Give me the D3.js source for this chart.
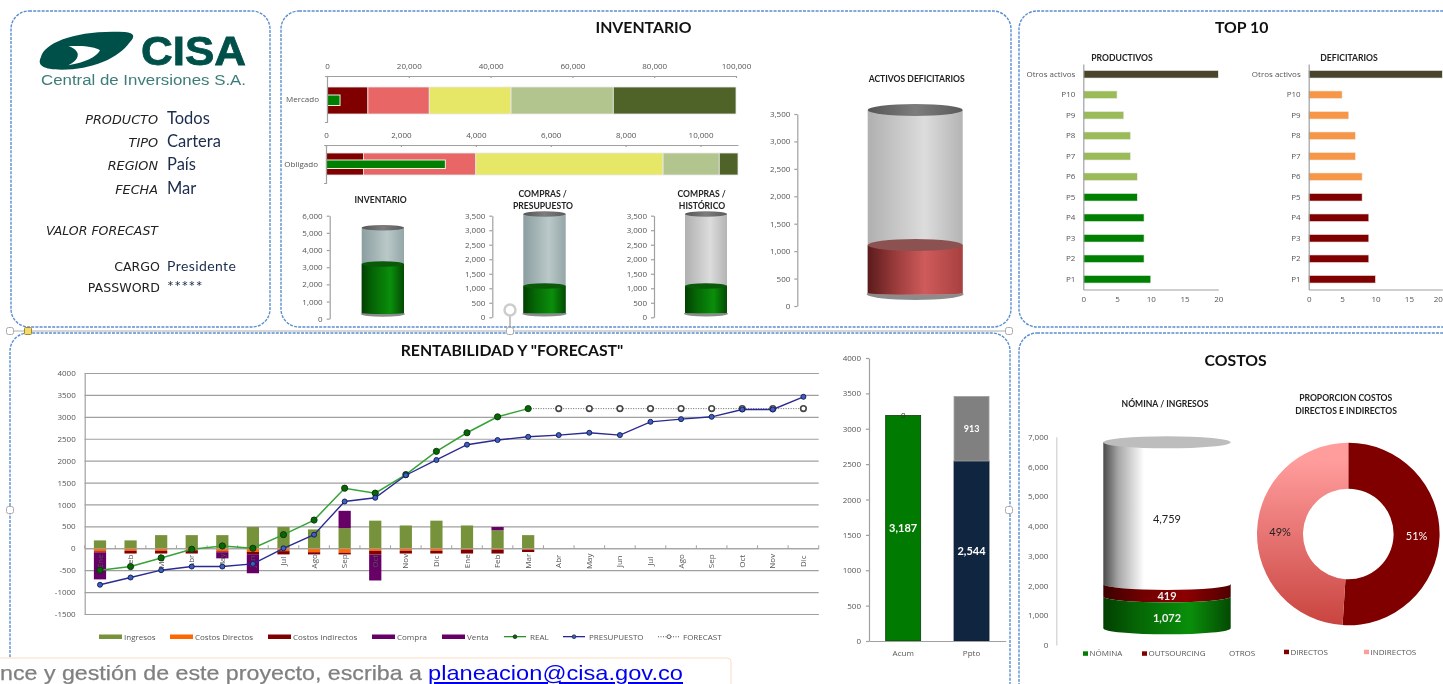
<!DOCTYPE html>
<html lang="es">
  <head>
    <meta charset="UTF-8" />
    <title>Tablero CISA</title>
    <script src="https://d3js.org/d3.v7.min.js"></script>
    <style>
      html, body { margin: 0; padding: 0; background: #fff; overflow: hidden; }
      svg { display: block; filter: blur(0.45px); }
      text { font-family: "Open Sans", sans-serif; }
      .tick text, .lab { font-size: 8px; fill: #555; }
      .axis path, .axis line { stroke: #a0a0a0; stroke-width: 1.2; fill: none; }
      .title { font-family: Lato, sans-serif; font-weight: 700; fill: #111; text-anchor: middle; }
      .sub { font-family: Lato, sans-serif; font-weight: 700; font-size: 8.6px; fill: #222; text-anchor: middle; }
    </style>
  </head>
  <body>
    <svg width="1443" height="684"></svg>
    <script>
      // Data
      const filterLabels = ["PRODUCTO", "TIPO", "REGION", "FECHA"];
      const filterValues = ["Todos", "Cartera", "País", "Mar"];

      // Inventario bullets
      const mercadoRanges = [10000, 15000, 20000, 25000, 30000];
      const obligadoRanges = [1000, 3000, 5000, 1500, 500];
      const inventarioActual = 3187;
      const mercadoTicks = [0, 20000, 40000, 60000, 80000, 100000];
      const obligadoTicks = [0, 2000, 4000, 6000, 8000, 10000];

      // Tanks: base of the cylinder, top of the cylinder, level reached
      const tankInventario = [330, 5300, 3187];
      const tankPresupuesto = [160, 3560, 1078];
      const tankHistorico = [160, 3560, 1078];
      const tankDeficitarios = [237, 3573, 1112];

      // Top 10
      const topNames = ["Otros activos", "P10", "P9", "P8", "P7", "P6", "P5", "P4", "P3", "P2", "P1"];
      const productivos = [20, 5, 6, 7, 7, 8, 8, 9, 9, 9, 10];
      const deficitarios = [20, 5, 6, 7, 7, 8, 8, 9, 9, 9, 10];

      // Rentabilidad
      const months = ["Ene", "Feb", "Mar", "Abr", "May", "Jun", "Jul", "Ago", "Sep", "Oct", "Nov", "Dic",
                      "Ene", "Feb", "Mar", "Abr", "May", "Jun", "Jul", "Ago", "Sep", "Oct", "Nov", "Dic"];
      const ingresos = [180, 180, 300, 300, 300, 485, 485, 430, 460, 630, 520, 630, 520, 410, 300];
      const costosDirectos = [-70, -60, -60, -45, -70, -85, -65, -90, -100, -60, -60, -60, -30, -30, -30];
      const costosIndirectos = [-30, -60, -60, -75, -20, -50, -75, -50, -40, -85, -60, -60, -90, -90, -55];
      const compra = [-610, 0, 0, 0, -140, -435, 0, 0, 0, -590, 0, 0, 0, 0, 0];
      const venta = [0, 0, 0, 0, 0, 0, 0, 0, 395, 0, 0, 0, 0, 75, 0];
      const real = [-500, -417, -220, -23, 53, 0, 310, 644, 1371, 1258, 1682, 2212, 2636, 3000, 3187];
      const presupuesto = [-833, -667, -500, -417, -417, -356, 0, 310, 1068, 1152, 1667, 2015, 2364, 2470, 2544,
                           2583, 2636, 2583, 2886, 2947, 3000, 3167, 3167, 3457];
      const forecast = [3187, 3187, 3187, 3187, 3187, 3187, 3187, 3187, 3187, 3187];

      // Acumulado
      const acumNames = ["Acum", "Ppto"];
      const acumReal = [3187, 0];
      const acumPpto = [0, 2544];
      const acumFalta = [0, 913];

      // Costos
      const nominaNames = ["NÓMINA", "OUTSOURCING", "OTROS"];
      const nominaValues = [1072, 419, 4759];
      const nominaBase = 560;
      const donutNames = ["DIRECTOS", "INDIRECTOS"];
      const donutValues = [51, 49];

      const fmt = d3.format(",");
      const svg = d3.select("svg");
      const defs = svg.append("defs");

      // horizontal shading used by every cylinder
      function shade(id, stops) {
        const g = defs.append("linearGradient").attr("id", id);
        stops.forEach((s) => g.append("stop").attr("offset", s[0]).attr("stop-color", s[1]));
      }
      shade("green", [[0, "#023f02"], [0.25, "#056405"], [0.68, "#0a8f0a"], [1, "#034a03"]]);
      shade("red", [[0, "#5b1b1b"], [0.3, "#9c3c3c"], [0.6, "#cf5b5b"], [1, "#a84040"]]);
      shade("glassBlue", [[0, "#8b9ea0"], [0.6, "#bac8c8"], [1, "#95a6a8"]]);
      shade("glassGrey", [[0, "#b0b0b0"], [0.6, "#dcdcdc"], [1, "#b4b4b4"]]);
      shade("white", [[0, "#4a4a4a"], [0.12, "#a8a8a8"], [0.32, "#fff"], [1, "#fff"]]);
      shade("darkRed", [[0, "#3c0000"], [0.3, "#700000"], [0.65, "#8c0000"], [1, "#500000"]]);
      shade("cap", [[0, "#555"], [0.5, "#7d7d7d"], [1, "#5a5a5a"]]);
      const pink = defs.append("linearGradient").attr("id", "pink").attr("gradientUnits", "userSpaceOnUse")
        .attr("x1", 0).attr("y1", -91).attr("x2", 0).attr("y2", 91);
      pink.append("stop").attr("offset", 0.1).attr("stop-color", "#ff9c9c");
      pink.append("stop").attr("offset", 1).attr("stop-color", "#c94440");

      // Panels
      const panels = [
        [11, 11, 259, 316],
        [281, 11, 730, 316],
        [1019, 11, 460, 316],
        [1019, 333, 460, 380],
        [10, 333, 1000, 380],
      ];
      svg.append("g").selectAll("rect").data(panels).join("rect")
        .attr("x", (d) => d[0]).attr("y", (d) => d[1])
        .attr("width", (d) => d[2]).attr("height", (d) => d[3])
        .attr("rx", 18).attr("fill", "#fff")
        .attr("stroke", "#5b8fcf").attr("stroke-width", 1.4).attr("stroke-dasharray", "3 1.2");

      function title(txt, x, y, size) {
        svg.append("text").attr("class", "title").attr("x", x).attr("y", y).attr("font-size", size).text(txt);
      }
      function sub(txt, x, y) {
        svg.append("text").attr("class", "sub").attr("x", x).attr("y", y).text(txt);
      }

      /* Logo and filters */
      const logo = svg.append("g").attr("transform", "translate(35,22) scale(0.3333)");
      logo.append("path").attr("fill", "#00504a")
        .attr("d", "M18 105C28 60 130 22 270 30C300 32 300 45 285 60C250 110 170 143 80 143C25 143 5 130 18 105Z");
      logo.append("path").attr("fill", "#fff")
        .attr("d", "M100 73C150 70 180 75 195 85C185 105 150 122 100 130C128 116 132 100 126 90C120 80 110 76 100 73Z");
      svg.append("text").attr("x", 141).attr("y", 65)
        .style("font-family", "Liberation Sans").style("font-weight", 700).attr("font-size", 41)
        .attr("fill", "#00504a").attr("stroke", "#00504a").attr("stroke-width", 0.8)
        .attr("textLength", 105).attr("lengthAdjust", "spacingAndGlyphs").text("CISA");
      svg.append("text").attr("x", 41).attr("y", 85)
        .style("font-family", "Liberation Sans").attr("font-size", 15.5)
        .attr("fill", "#3c7d77").attr("textLength", 205).attr("lengthAdjust", "spacingAndGlyphs").text("Central de Inversiones S.A.");

      const rowY = d3.scalePoint().domain(filterLabels).range([124, 193.5]);
      filterLabels.forEach((name, i) => {
        svg.append("text").attr("x", 158).attr("y", rowY(name)).attr("text-anchor", "end")
          .style("font-family", "DejaVu Sans").style("font-style", "italic").attr("font-size", 12.8).attr("fill", "#222").text(name);
        svg.append("text").attr("x", 167).attr("y", rowY(name)).style("font-family", "Lato")
          .attr("font-size", 16.5).attr("fill", "#1b2c4c").text(filterValues[i]);
      });
      svg.append("text").attr("x", 158).attr("y", 234.5).attr("text-anchor", "end")
        .style("font-family", "DejaVu Sans").style("font-style", "italic").attr("font-size", 12).attr("fill", "#222")
        .attr("textLength", 112).attr("lengthAdjust", "spacingAndGlyphs").text("VALOR FORECAST");
      [["CARGO", "Presidente", 271], ["PASSWORD", "*****", 291.5]].forEach((r, i) => {
        svg.append("text").attr("x", 160).attr("y", r[2]).attr("text-anchor", "end")
          .style("font-family", "DejaVu Sans").attr("font-size", 12.6).attr("fill", "#222").text(r[0]);
        svg.append("text").attr("x", 167).attr("y", r[2]).style("font-family", "Lato").style("letter-spacing", "0.4px")
          .attr("font-size", i ? 16 : 14).attr("fill", "#1b2c4c").text(r[1]);
      });

      /* Inventario */
      title("INVENTARIO", 643.5, 33, 15.8);
      const rangeColors = ["#800000", "#e86666", "#e6e667", "#b3c58f", "#4f6228"];

      function bullet(name, ranges, ticks, domainMax, left, right, axisY, bottom, barTop, barBottom, inTop, inBottom) {
        const x = d3.scaleLinear().domain([0, domainMax]).range([left, right]);
        const y = d3.scaleBand().domain([name]).range([axisY, bottom]);
        const g = svg.append("g");
        const starts = d3.cumsum([0].concat(ranges));
        g.selectAll("rect.r").data(ranges).join("rect").attr("class", "r")
          .attr("x", (d, i) => x(starts[i])).attr("width", (d) => x(d) - x(0))
          .attr("y", barTop).attr("height", barBottom - barTop)
          .attr("fill", (d, i) => rangeColors[i]).attr("stroke", "#e8e8e8").attr("stroke-width", 0.8);
        g.append("rect").attr("x", x(0)).attr("width", x(inventarioActual) - x(0))
          .attr("y", inTop).attr("height", inBottom - inTop)
          .attr("fill", "#008000").attr("stroke", "#e8f0e0").attr("stroke-width", 1);
        g.append("g").attr("class", "axis").attr("transform", `translate(0,${axisY})`)
          .call(d3.axisTop(x).tickValues(ticks).tickFormat(fmt).tickSizeInner(-2).tickSizeOuter(0).tickPadding(7));
        g.append("g").attr("class", "axis").attr("transform", `translate(${left},0)`)
          .call(d3.axisLeft(y).tickSizeInner(0).tickSizeOuter(2).tickPadding(8));
      }
      bullet("Mercado", mercadoRanges, mercadoTicks, 100000, 327, 736, 76, 122, 87, 114, 95, 105.5);
      bullet("Obligado", obligadoRanges, obligadoTicks, 11000, 326, 738, 145, 183, 153, 175, 160, 168.5);

      // cylinder wall; topBulge curves the upper edge like the lower one
      function cylBody(x0, x1, top, bottom, ry, topBulge, lowRy) {
        const rx = (x1 - x0) / 2;
        const upper = topBulge ? `A${rx},${ry} 0 0 0 ${x1},${top}` : `L${x1},${top}`;
        return `M${x0},${top}${upper}L${x1},${bottom}A${rx},${lowRy === undefined ? ry : lowRy} 0 0 1 ${x0},${bottom}Z`;
      }
      function ell(g, x0, x1, cy, ry, fill) {
        g.append("ellipse").attr("cx", (x0 + x1) / 2).attr("cy", cy).attr("rx", (x1 - x0) / 2).attr("ry", ry).attr("fill", fill);
      }
      function tank(name, vals, yMax, yStep, yRange, axisX, cx0, cx1, glass, liquid, levelCol, ry) {
        const g = svg.append("g");
        const y = d3.scaleLinear().domain([0, yMax]).range(yRange);
        const x = d3.scaleBand().domain([name]).range([cx0, cx1]);
        const x0 = x(name), x1 = x0 + x.bandwidth();
        ell(g, x0 - 1, x1 + 1, y(vals[0]) + 1, ry, "#8c8c8c");
        g.append("path").attr("d", cylBody(x0, x1, y(vals[1]), y(vals[0]), ry, false, ry * 0.3)).attr("fill", `url(#${glass})`);
        g.append("path").attr("d", cylBody(x0, x1, y(vals[2]), y(vals[0]), ry, false, ry * 0.3)).attr("fill", `url(#${liquid})`);
        ell(g, x0, x1, y(vals[2]), ry, levelCol);
        ell(g, x0, x1, y(vals[1]), ry, "url(#cap)");
        g.append("g").attr("class", "axis").attr("transform", `translate(${axisX},0)`)
          .call(d3.axisLeft(y).tickValues(d3.range(0, yMax + 1, yStep)).tickFormat(fmt).tickSize(3).tickSizeOuter(0).tickPadding(4));
      }
      sub("INVENTARIO", 380.7, 202.5);
      tank("Inventario", tankInventario, 6000, 1000, [318.7, 215.7], 329.7, 361.7, 404, "glassBlue", "green", "#0a5a0a", 2.8);
      sub("COMPRAS /", 542.7, 196.5);
      sub("PRESUPUESTO", 543, 208.5);
      tank("Presupuesto", tankPresupuesto, 3500, 500, [317.3, 215.7], 492.3, 523.3, 565.7, "glassBlue", "green", "#0a5a0a", 2.8);
      sub("COMPRAS /", 701.7, 196.5);
      sub("HISTÓRICO", 702, 208.5);
      tank("Historico", tankHistorico, 3500, 500, [317.3, 215.7], 654, 685, 727, "glassGrey", "green", "#0a5a0a", 2.8);
      sub("ACTIVOS DEFICITARIOS", 916.7, 81.5);
      tank("Deficitarios", tankDeficitarios, 3500, 500, [306, 114], 797.3, 867.7, 962.7, "glassGrey", "red", "#8c5252", 6);

      /* Top 10 */
      title("TOP 10", 1241.7, 33, 15.8);
      function topChart(values, left, right, colorA, colorB) {
        const g = svg.append("g");
        const x = d3.scaleLinear().domain([0, 20]).range([left, right]);
        const y = d3.scaleBand().domain(topNames).range([64, 289.5]).paddingInner(0.63).paddingOuter(0.315);
        g.selectAll("rect").data(values).join("rect")
          .attr("x", x(0)).attr("y", (d, i) => y(topNames[i]))
          .attr("width", (d) => x(d) - x(0)).attr("height", y.bandwidth())
          .attr("fill", (d, i) => (i === 0 ? "#4a452a" : i < 6 ? colorA : colorB))
          .attr("stroke", "#f0f0f0").attr("stroke-width", 0.6);
        const ax = g.append("g").attr("class", "axis").attr("transform", "translate(0,289.5)")
          .call(d3.axisBottom(x).tickValues(d3.range(0, 21, 5)).tickSize(0).tickPadding(7));
        // the last label of the right chart would run off the window, pull it inside
        if (right > 1430) ax.selectAll(".tick:last-of-type text").attr("text-anchor", "end");
        g.append("g").attr("class", "axis").attr("transform", `translate(${left},0)`)
          .call(d3.axisLeft(y).tickSize(0).tickPadding(8));
      }
      sub("PRODUCTIVOS", 1122, 60.5);
      topChart(productivos, 1083.3, 1218.3, "#9bbb59", "#008000");
      sub("DEFICITARIOS", 1349, 60.5);
      topChart(deficitarios, 1308.7, 1442.3, "#f79646", "#800000");

      /* Rentabilidad y forecast */
      title('RENTABILIDAD Y "FORECAST"', 512, 356, 15.8);
      const xM = d3.scaleBand().domain(d3.range(24)).range([84.7, 818.7]).paddingInner(0.6).paddingOuter(0.3);
      const yM = d3.scaleLinear().domain([-1500, 4000]).range([614, 373]);
      const cx = (i) => xM(i) + xM.bandwidth() / 2;

      const rent = svg.append("g");
      rent.append("g").attr("class", "axis grid").attr("transform", "translate(84.7,0)")
        .call(d3.axisLeft(yM).tickValues(d3.range(-1500, 4001, 500)).tickFormat((d) => String(d)).tickSize(-734).tickPadding(9));
      rent.select(".grid").selectAll(".tick line").attr("x2", 734);

      const monthRows = ingresos.map((d, i) => ({
        i, Ingresos: d, Directos: costosDirectos[i], Indirectos: costosIndirectos[i], Compra: compra[i], Venta: venta[i],
      }));
      const stackKeys = ["Ingresos", "Directos", "Indirectos", "Compra", "Venta"];
      const stackColors = ["#76933c", "#ff6600", "#800000", "#660066", "#660066"];
      const layers = d3.stack().keys(stackKeys).offset(d3.stackOffsetDiverging)(monthRows);
      rent.selectAll("g.layer").data(layers).join("g").attr("class", "layer")
        .attr("fill", (d, i) => stackColors[i])
        .selectAll("rect").data((d) => d).join("rect")
        .attr("x", (d) => xM(d.data.i)).attr("width", xM.bandwidth())
        .attr("y", (d) => yM(d[1])).attr("height", (d) => yM(d[0]) - yM(d[1]));

      // month axis crosses at zero, labels hang below it rotated
      const monthAxis = rent.append("g").attr("class", "axis").attr("transform", `translate(0,${yM(0)})`)
        .call(d3.axisBottom(xM).tickFormat((i) => months[i]).tickSize(0).tickPadding(0));
      monthAxis.selectAll("text").attr("transform", "translate(0,13) rotate(-90)")
        .attr("dy", "0.32em").attr("y", 0).attr("text-anchor", "middle");
      rent.append("g").selectAll("line").data(d3.range(25)).join("line")
        .attr("x1", (i) => 84.7 + (i * 734) / 24).attr("x2", (i) => 84.7 + (i * 734) / 24)
        .attr("y1", yM(0) - 3).attr("y2", yM(0)).attr("stroke", "#a0a0a0");

      const line = d3.line().x((d) => cx(d.i)).y((d) => yM(d.v));
      const realPts = real.map((v, i) => ({ i, v }));
      const budgetPts = presupuesto.map((v, i) => ({ i, v }));
      const forePts = forecast.map((v, i) => ({ i: i + 14, v }));

      rent.append("path").attr("d", line(forePts)).attr("fill", "none").attr("stroke", "#555").attr("stroke-width", 0.9).attr("stroke-dasharray", "1 1.5");
      rent.append("g").selectAll("circle").data(forePts.slice(1)).join("circle")
        .attr("cx", (d) => cx(d.i)).attr("cy", (d) => yM(d.v)).attr("r", 2.8)
        .attr("fill", "#fff").attr("stroke", "#444").attr("stroke-width", 1.6);
      rent.append("path").attr("d", line(realPts)).attr("fill", "none").attr("stroke", "#36a336").attr("stroke-width", 1.5);
      rent.append("g").selectAll("circle").data(realPts).join("circle")
        .attr("cx", (d) => cx(d.i)).attr("cy", (d) => yM(d.v)).attr("r", 3.1)
        .attr("fill", "#046904").attr("stroke", "#0c300c").attr("stroke-width", 0.9);
      rent.append("path").attr("d", line(budgetPts)).attr("fill", "none").attr("stroke", "#2a2a92").attr("stroke-width", 1.4);
      rent.append("g").selectAll("circle").data(budgetPts).join("circle")
        .attr("cx", (d) => cx(d.i)).attr("cy", (d) => yM(d.v)).attr("r", 2.5)
        .attr("fill", "#3a62c4").attr("stroke", "#14144a").attr("stroke-width", 0.9);

      // legend
      const legendItems = [
        ["Ingresos", 99, "#76933c"], ["Costos Directos", 170, "#ff6600"], ["Costos Indirectos", 268, "#800000"],
        ["Compra", 372, "#660066"], ["Venta", 442, "#660066"],
      ];
      legendItems.forEach((d) => {
        rent.append("rect").attr("x", d[1]).attr("y", 634.5).attr("width", 23).attr("height", 4.5).attr("fill", d[2]);
        rent.append("text").attr("class", "lab").attr("x", d[1] + 25).attr("y", 639.5).text(d[0]);
      });
      [["REAL", 504, "#008000", "#046904", "none"], ["PRESUPUESTO", 563, "#000080", "#3a62c4", "none"], ["FORECAST", 658, "#555", "#fff", "1 1.5"]].forEach((d) => {
        rent.append("line").attr("x1", d[1]).attr("x2", d[1] + 22).attr("y1", 636.7).attr("y2", 636.7)
          .attr("stroke", d[2]).attr("stroke-width", 1.1).attr("stroke-dasharray", d[4]);
        rent.append("circle").attr("cx", d[1] + 11).attr("cy", 636.7).attr("r", 1.9).attr("fill", d[3]).attr("stroke", "#222").attr("stroke-width", 0.7);
        rent.append("text").attr("class", "lab").attr("x", d[1] + (d[0] === "FORECAST" ? 25 : 26)).attr("y", 639.5).text(d[0]);
      });

      /* Acum vs Ppto */
      const xA = d3.scaleBand().domain(acumNames).range([869, 1005.7]).paddingInner(0.488).paddingOuter(0.244);
      const yA = d3.scaleLinear().domain([0, 4000]).range([641, 358]);
      const acumRows = acumNames.map((n, i) => ({ n, Real: acumReal[i], Ppto: acumPpto[i], Falta: acumFalta[i] }));
      const acumLayers = d3.stack().keys(["Real", "Ppto", "Falta"])(acumRows);
      const acumColors = ["#007a00", "#10253f", "#808080"];
      const acumEdges = ["#0c3c0c", "#0d1d33", "#a0a0a0"];
      const acum = svg.append("g");
      acum.selectAll("g.l").data(acumLayers).join("g").attr("class", "l")
        .attr("fill", (d, i) => acumColors[i]).attr("stroke", (d, i) => acumEdges[i])
        .selectAll("rect").data((d) => d.filter((s) => s[1] > s[0])).join("rect")
        .attr("x", (d) => xA(d.data.n)).attr("width", xA.bandwidth())
        .attr("y", (d) => yA(d[1])).attr("height", (d) => yA(d[0]) - yA(d[1]))
        .attr("stroke-width", 0.8);
      acum.append("g").selectAll("text").data(acumLayers.flatMap((l) => l.filter((s) => s[1] > s[0]))).join("text")
        .attr("x", (d) => xA(d.data.n) + xA.bandwidth() / 2)
        .attr("y", (d) => yA((d[0] + d[1]) / 2))
        .attr("dy", "0.35em").attr("text-anchor", "middle").attr("fill", "#fff")
        .attr("font-size", (d) => (d[1] - d[0] < 1000 ? 9 : 11)).style("font-family", "Lato").style("font-weight", 700)
        .text((d) => fmt(d[1] - d[0]));
      acum.append("text").attr("x", xA("Acum") + xA.bandwidth() / 2).attr("y", yA(acumReal[0]))
        .attr("dy", "0.35em").attr("text-anchor", "middle").attr("font-size", 8).attr("fill", "#333").text("0");
      acum.append("g").attr("class", "axis").attr("transform", "translate(869,0)")
        .call(d3.axisLeft(yA).tickValues(d3.range(0, 4001, 500)).tickFormat((d) => String(d)).tickSize(3).tickSizeOuter(0).tickPadding(5));
      acum.append("g").attr("class", "axis").attr("transform", "translate(0,641)")
        .call(d3.axisBottom(xA).tickSize(0).tickPadding(9));

      /* Costos */
      title("COSTOS", 1235.7, 366, 15.8);
      sub("NÓMINA / INGRESOS", 1165, 407);
      sub("PROPORCION COSTOS", 1345.7, 401);
      sub("DIRECTOS E INDIRECTOS", 1346, 413.5);

      const yC = d3.scaleLinear().domain([0, 7000]).range([645, 436.7]);
      const xC = d3.scaleBand().domain(["Costos"]).range([1103.3, 1230.7]);
      const costos = svg.append("g");
      const tops = d3.cumsum(nominaValues).map((d) => d + nominaBase);
      const rx0 = xC("Costos"), rx1 = rx0 + xC.bandwidth();
      const fills = ["url(#green)", "url(#darkRed)", "url(#white)"];
      [2, 1, 0].forEach((i) => {
        const low = i === 0 ? nominaBase : tops[i - 1];
        costos.append("path").attr("d", cylBody(rx0, rx1, yC(tops[i]), yC(low), 6, i !== 2)).attr("fill", fills[i]);
      });
      [2, 1, 0].forEach((i) => {
        const low = i === 0 ? nominaBase : tops[i - 1];
        costos.append("text").attr("x", (rx0 + rx1) / 2).attr("y", (yC(tops[i]) + yC(low)) / 2 + 6)
          .attr("dy", "0.35em").attr("text-anchor", "middle").attr("font-size", 11)
          .style("font-family", "Lato").style("font-weight", i === 2 ? 400 : 700)
          .attr("fill", i === 2 ? "#222" : "#eee").text(fmt(nominaValues[i]));
      });
      ell(costos, rx0, rx1, yC(tops[2]), 6, "#bdbdbd");
      costos.append("g").attr("class", "axis").attr("transform", "translate(1056.3,0)")
        .call(d3.axisLeft(yC).tickValues(d3.range(0, 7001, 1000)).tickFormat(fmt).tickSize(0).tickPadding(8))
        .select(".domain").style("stroke", "#d0d0d0");

      const pie = d3.pie().sort(null)(donutValues);
      const arc = d3.arc().innerRadius(45.3).outerRadius(91.3);
      const donut = svg.append("g").attr("transform", "translate(1348.3,534)");
      const donutGrad = ["#800000", "url(#pink)"];
      donut.selectAll("path").data(pie).join("path").attr("d", arc).attr("fill", (d, i) => donutGrad[i]);
      donut.selectAll("text").data(pie).join("text")
        .attr("transform", (d) => `translate(${arc.centroid(d)})`)
        .attr("dy", "0.35em").attr("text-anchor", "middle").attr("font-size", 11)
        .style("font-family", "Lato").attr("fill", (d, i) => (i === 0 ? "#fff" : "#222"))
        .text((d) => d.data + "%");

      const costLegend = [
        [nominaNames[0], 1083, 653.3, "#008000"], [nominaNames[1], 1142, 653.3, "#800000"], [nominaNames[2], null, 653.3, null],
        [donutNames[0], 1284, 651.7, "#800000"], [donutNames[1], 1364, 651.7, "#ff9c9c"],
      ];
      costLegend.forEach((d) => {
        if (d[1] !== null) svg.append("rect").attr("x", d[1]).attr("y", d[2] - 2).attr("width", 5).attr("height", 4.5).attr("fill", d[3]);
        svg.append("text").attr("class", "lab").attr("x", d[1] !== null ? d[1] + 6.5 : 1229).attr("y", d[2] + 3).text(d[0]);
      });

      /* Selection handles round the rentabilidad panel */
      const sel = svg.append("g");
      sel.append("line").attr("x1", 10).attr("x2", 1010).attr("y1", 331).attr("y2", 331).attr("stroke", "#999").attr("stroke-width", 0.8);
      sel.append("line").attr("x1", 510).attr("x2", 510).attr("y1", 316).attr("y2", 331).attr("stroke", "#888");
      sel.append("circle").attr("cx", 510).attr("cy", 310).attr("r", 5.5).attr("fill", "#fff").attr("stroke", "#ccc").attr("stroke-width", 2.4);
      const handles = [[10, 331], [510, 331], [1009, 331], [10, 510], [1009, 510]];
      sel.selectAll("rect.h").data(handles).join("rect").attr("class", "h")
        .attr("x", (d) => d[0] - 3.5).attr("y", (d) => d[1] - 3.5).attr("width", 7).attr("height", 7).attr("rx", 2)
        .attr("fill", "#fff").attr("stroke", "#aaa");
      sel.append("rect").attr("x", 24.5).attr("y", 327.5).attr("width", 7).attr("height", 7).attr("rx", 1)
        .attr("fill", "#f5dc6a").attr("stroke", "#9a8a3a");

      /* Footer note */
      svg.append("rect").attr("x", -10).attr("y", 658).attr("width", 741).attr("height", 40).attr("rx", 4)
        .attr("fill", "#fff").attr("stroke", "#fbdcc4");
      svg.append("text").attr("x", 0).attr("y", 680)
        .style("font-family", "Liberation Sans").attr("font-size", 21).attr("fill", "#808080")
        .attr("stroke", "#808080").attr("stroke-width", 0.25)
        .attr("textLength", 422).attr("lengthAdjust", "spacingAndGlyphs")
        .text("nce y gestión de este proyecto, escriba a");
      svg.append("text").attr("x", 428).attr("y", 680)
        .style("font-family", "Liberation Sans").attr("font-size", 21).attr("fill", "#0000ee")
        .attr("text-decoration", "underline").attr("textLength", 255).attr("lengthAdjust", "spacingAndGlyphs")
        .text("planeacion@cisa.gov.co");
    </script>
  </body>
</html>
